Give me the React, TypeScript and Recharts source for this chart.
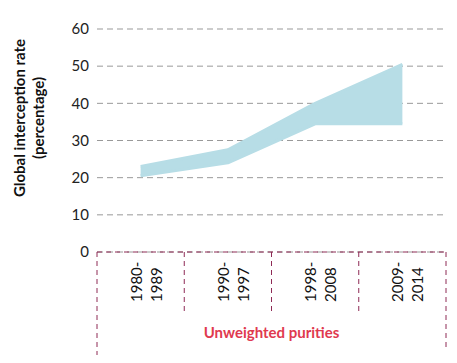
import { Area, AreaChart, CartesianGrid, XAxis, YAxis } from 'recharts';

const periods = ['1980-1989', '1990-1997', '1998-2008', '2009-2014'];
const lowRates = [20.5, 24, 34.5, 34.5];
const highRates = [23, 27.5, 40, 50.5];
const yTicks = [0, 10, 20, 30, 40, 50, 60];

const data = periods.map((p, i) => ({ period: p, range: [lowRates[i], highRates[i]] }));

const FONT = 'Lato, "Open Sans", sans-serif';
const BORDER = '#8e2a55';

const PeriodTick = (props: any) => {
    const { x, y, payload, index } = props;
    const half = payload.offset || 43.5;
    const [a, b] = String(payload.value).split('-');
    const left = x - half;
    return (
        <g>
            <line x1={left} y1={y} x2={left} y2={y + (index === 0 ? 103 : 63)} stroke={BORDER} strokeDasharray="5 4" />
            {index === periods.length - 1 && (
                <line x1={x + half} y1={y} x2={x + half} y2={y + 96} stroke={BORDER} strokeDasharray="5 4" />
            )}
            <g transform={`translate(${x + 4},${y + 50})`}>
                <text transform="rotate(-90)" textAnchor="start" fontFamily={FONT} fontSize={15} fill="#111">
                    <tspan x={0} y={-3}>{a}-</tspan>
                    <tspan x={0} y={17}>{b}</tspan>
                </text>
            </g>
        </g>
    );
};

const YTitle = () => (
    <g transform="translate(30,118)">
        <text transform="rotate(-90)" textAnchor="middle" fontFamily={FONT} fontSize={15} fontWeight="bold" fill="#111">
            <tspan x={0} y={-5}>Global interception rate</tspan>
            <tspan x={0} y={14}>(percentage)</tspan>
        </text>
    </g>
);

export default function App() {
    return (
        <div style={{ position: 'absolute', left: 0, top: 0, background: '#fff' }}>
            <AreaChart width={457} height={363} data={data} margin={{ top: 29, right: 11, bottom: 8, left: 0 }}>
                <CartesianGrid vertical={false} stroke="#999" strokeDasharray="6 4" />
                <XAxis
                    dataKey="period"
                    scale="band"
                    height={103}
                    tickSize={0}
                    tickMargin={0}
                    axisLine={{ stroke: BORDER, strokeDasharray: '5 4' }}
                    tickLine={false}
                    tick={<PeriodTick />}
                    interval={0}
                    label={{
                        value: 'Unweighted purities',
                        position: 'insideBottom',
                        offset: 17,
                        fill: '#e0394f',
                        fontWeight: 'bold',
                        fontSize: 15,
                        fontFamily: FONT,
                    }}
                />
                <YAxis
                    width={97}
                    domain={[0, 60]}
                    ticks={yTicks}
                    axisLine={false}
                    tickLine={false}
                    tickMargin={2}
                    tick={{ fill: '#222', fontSize: 15, fontFamily: FONT }}
                    label={<YTitle />}
                />
                <Area
                    dataKey="range"
                    type="linear"
                    fill="#b7dde6"
                    fillOpacity={1}
                    stroke="#b7dde6"
                    strokeWidth={3}
                    strokeLinejoin="round"
                    isAnimationActive={false}
                />
            </AreaChart>
        </div>
    );
}
